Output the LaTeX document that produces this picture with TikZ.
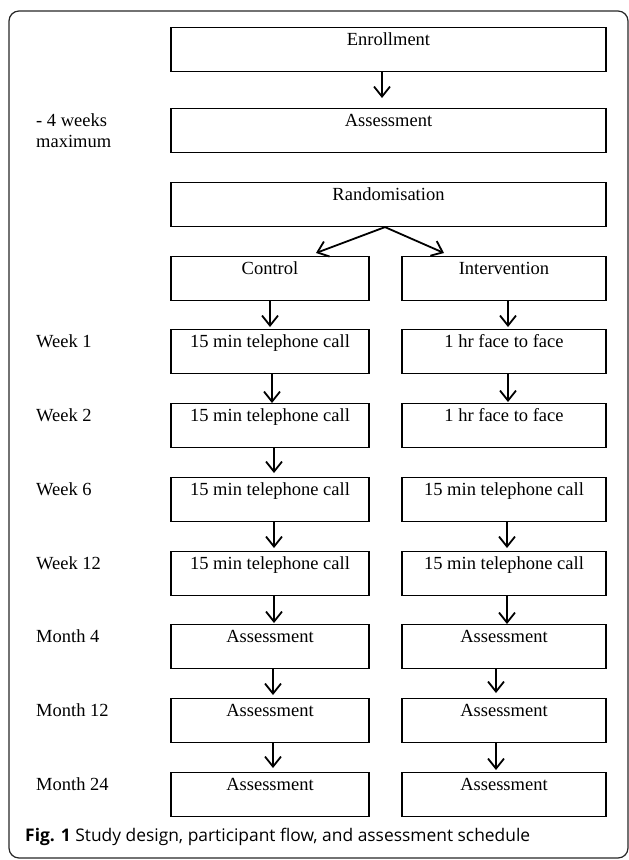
\documentclass[tikz,border=0pt]{standalone}
\usepackage{fontspec}
\setmainfont{Liberation Serif}
\newfontfamily\capfont{Open Sans}
\usetikzlibrary{arrows.meta}

\tikzset{
  box/.style={draw, line width=1.1pt, inner xsep=0pt, inner ysep=0pt,
    text height=18pt, text depth=26pt, anchor=north,
    font=\fontsize{18.5}{22}\selectfont},
  widebox/.style={box, minimum width=435pt},
  ctrlbox/.style={box, minimum width=198pt},
  intbox/.style={box, minimum width=204pt},
  when/.style={anchor=base west, inner sep=0pt, font=\fontsize{18.5}{21}\selectfont},
  arr/.style={-{Straight Barb[length=10pt,width=16pt]}, line width=1.8pt}
}

\begin{document}
\begin{tikzpicture}[x=1pt,y=-1pt]
\useasboundingbox (0,0) rectangle (629,860);
\draw[line width=1.2pt, rounded corners=10pt, black!85] (9,11) rectangle (628,858);

% top part
\node[widebox] (enroll) at (388.5,27) {Enrollment};
\node[widebox] (assess) at (388.5,108) {Assessment};
\node[widebox] (random) at (388.5,182) {Randomisation};
\node[ctrlbox] (control) at (270,256) {Control};
\node[intbox] (interv) at (504,256) {Intervention};
\node[anchor=west, align=left, inner sep=0pt, font=\fontsize{18.5}{21}\selectfont] (lbl0) at (36,131) {- 4 weeks\\maximum};

% control arm
\node[ctrlbox] (c1) at (270,329) {15 min telephone call};
\node[ctrlbox] (c2) at (270,403) {15 min telephone call};
\node[ctrlbox] (c3) at (270,477) {15 min telephone call};
\node[ctrlbox] (c4) at (270,551) {15 min telephone call};
\node[ctrlbox] (c5) at (270,624) {Assessment};
\node[ctrlbox] (c6) at (270,698) {Assessment};
\node[ctrlbox] (c7) at (270,772) {Assessment};

% intervention arm
\node[intbox] (i1) at (504,329) {1 hr face to face};
\node[intbox] (i2) at (504,403) {1 hr face to face};
\node[intbox] (i3) at (504,477) {15 min telephone call};
\node[intbox] (i4) at (504,551) {15 min telephone call};
\node[intbox] (i5) at (504,624) {Assessment};
\node[intbox] (i6) at (504,698) {Assessment};
\node[intbox] (i7) at (504,772) {Assessment};

% time points
\node[when] (lbl1) at (36,347) {Week 1};
\node[when] (lbl2) at (36,421) {Week 2};
\node[when] (lbl3) at (36,495) {Week 6};
\node[when] (lbl4) at (36,569) {Week 12};
\node[when] (lbl5) at (36,642) {Month 4};
\node[when] (lbl6) at (36,716) {Month 12};
\node[when] (lbl7) at (36,790) {Month 24};

% arrows
\draw[arr, shorten >=10pt] ([xshift=-6.5pt]enroll.south) -- ([xshift=-6.5pt]assess.north);
\draw[arr] ([xshift=-3.5pt]random.south) -- ([xshift=46pt,yshift=3pt]control.north);
\draw[arr] ([xshift=-3.5pt]random.south) -- ([xshift=-60pt,yshift=3pt]interv.north);

\draw[arr, shorten >=2pt] (control.south) -- (c1.north);
\draw[arr] ([xshift=2pt]c1.south) -- ([xshift=2pt]c2.north);
\draw[arr, shorten >=4pt] ([xshift=4pt]c2.south) -- ([xshift=4pt]c3.north);
\draw[arr, shorten >=3pt] ([xshift=4pt]c3.south) -- ([xshift=4pt]c4.north);
\draw[arr, shorten >=1pt] ([xshift=4pt]c4.south) -- ([xshift=4pt]c5.north);
\draw[arr, shorten >=3pt] ([xshift=3pt]c5.south) -- ([xshift=3pt]c6.north);
\draw[arr, shorten >=4pt] ([xshift=3pt]c6.south) -- ([xshift=3pt]c7.north);

\draw[arr, shorten >=2pt] ([xshift=4pt]interv.south) -- ([xshift=4pt]i1.north);
\draw[arr, shorten >=1pt] ([xshift=4pt]i1.south) -- ([xshift=4pt]i2.north);
\draw[arr, shorten >=3pt] ([xshift=3pt]i3.south) -- ([xshift=3pt]i4.north);
\draw[arr] ([xshift=3pt]i4.south) -- ([xshift=3pt]i5.north);
\draw[arr, shorten >=5pt] ([xshift=-8pt]i5.south) -- ([xshift=-8pt]i6.north);
\draw[arr, shorten >=2pt] ([xshift=-8pt]i6.south) -- ([xshift=-8pt]i7.north);

% caption
\node[anchor=base west, inner sep=0pt, font=\capfont\fontsize{17.4}{20}\selectfont] (cap) at (25,841)
  {\textbf{Fig. 1} Study design, participant flow, and assessment schedule};
\end{tikzpicture}
\end{document}
